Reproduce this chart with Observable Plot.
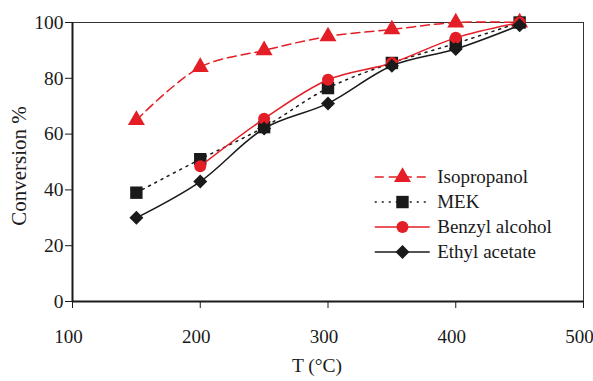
<!DOCTYPE html>
<html><head><meta charset="utf-8">
<script src="https://cdn.jsdelivr.net/npm/d3@7"></script>
<script src="https://cdn.jsdelivr.net/npm/@observablehq/plot@0.6"></script>
<style>body{margin:0;background:#fff} svg text{font-family:'Liberation Serif','Times New Roman',serif !important;font-variant:normal !important;}
g[aria-label="y-title"] text{letter-spacing:1.1px;}</style>
</head><body><div id="chart"></div>
<script>
const temps = [150, 200, 250, 300, 350, 400, 450];
const isopropanol = [65, 84, 90, 95, 97.5, 100, 100];
const mek = [39, 51, 62.5, 76.5, 85.5, 92.5, 100];
const benzylAlcohol = [null, 48.5, 65.5, 79.5, 85.5, 94.5, 100];
const ethylAcetate = [30, 43, 62, 71, 84.5, 90.5, 99];
const xTicks = [100, 200, 300, 400, 500];
const yTicks = [0, 20, 40, 60, 80, 100];

const RED = "#e41e26", BLACK = "#1a1a1a";
const series = [
  {name: "Isopropanol", values: isopropanol, color: RED, dash: "9,5", symbol: "triangle", r: 6.3},
  {name: "MEK", values: mek, color: BLACK, dash: "2,5", symbol: "square", r: 7},
  {name: "Benzyl alcohol", values: benzylAlcohol, color: RED, dash: null, symbol: "circle", r: 6},
  {name: "Ethyl acetate", values: ethylAcetate, color: BLACK, dash: null, symbol: "diamond2", r: 6.3}
];
const font = "'Liberation Serif','Times New Roman',serif";

const marks = [
  Plot.frame({stroke: "#333", strokeWidth: 1}),
  Plot.ruleX([100], {stroke: BLACK, strokeWidth: 2}),
  Plot.ruleY([0], {stroke: BLACK, strokeWidth: 2}),
  Plot.axisX({ticks: xTicks, tickSize: 7, text: null, label: null, stroke: BLACK}),
  Plot.axisX({ticks: xTicks, tickSize: 0, tickPadding: 28, fontSize: 19, fontFamily: font, fontVariant: "normal", label: null, fill: BLACK, dx: -4}),
  Plot.axisY({ticks: yTicks, tickSize: 7, tickPadding: 2, fontSize: 19.5, fontFamily: font, fontVariant: "normal", label: null, stroke: BLACK, fill: BLACK}),
  Plot.text(["T (°C)"], {frameAnchor: "bottom", dy: 70, dx: -11, fontSize: 19.5, fontFamily: font, fill: BLACK}),
  Plot.text(["Conversion %"], {frameAnchor: "left", textAnchor: "middle", dx: -53, dy: 4, rotate: -90, fontSize: 21, fontFamily: font, fill: BLACK, ariaLabel: "y-title"})
];

series.forEach((s, i) => {
  const rows = temps.map((t, j) => ({T: t, v: s.values[j]})).filter(d => d.v != null);
  marks.push(Plot.line(rows, {x: "T", y: "v", stroke: s.color, strokeWidth: 1.5, strokeDasharray: s.dash, curve: "catmull-rom"}));
  marks.push(Plot.dot(rows, {x: "T", y: "v", symbol: s.symbol, r: s.r, fill: s.color, stroke: "none"}));
  // legend (data coordinates)
  const ly = 44.6 - i * 8.95;
  const item = [{name: s.name}];
  marks.push(Plot.ruleY(item, {y: () => ly, x1: 337, x2: 380, stroke: s.color, strokeWidth: 1.5, strokeDasharray: s.dash}));
  marks.push(Plot.dot(item, {x: () => 358.3, y: () => ly, symbol: s.symbol, r: s.r, fill: s.color, stroke: "none"}));
  marks.push(Plot.text(item, {x: () => 385.5, y: () => ly, text: "name", textAnchor: "start", fontSize: 19, fontFamily: font, fill: BLACK}));
});

const chart = Plot.plot({
  width: 593, height: 381,
  marginLeft: 72, marginRight: 10, marginTop: 22, marginBottom: 80,
  style: {fontFamily: font, background: "#fff", color: BLACK},
  x: {domain: [100, 500]},
  y: {domain: [0, 100]},
  marks
});
document.getElementById("chart").append(chart);
</script>
</body></html>
